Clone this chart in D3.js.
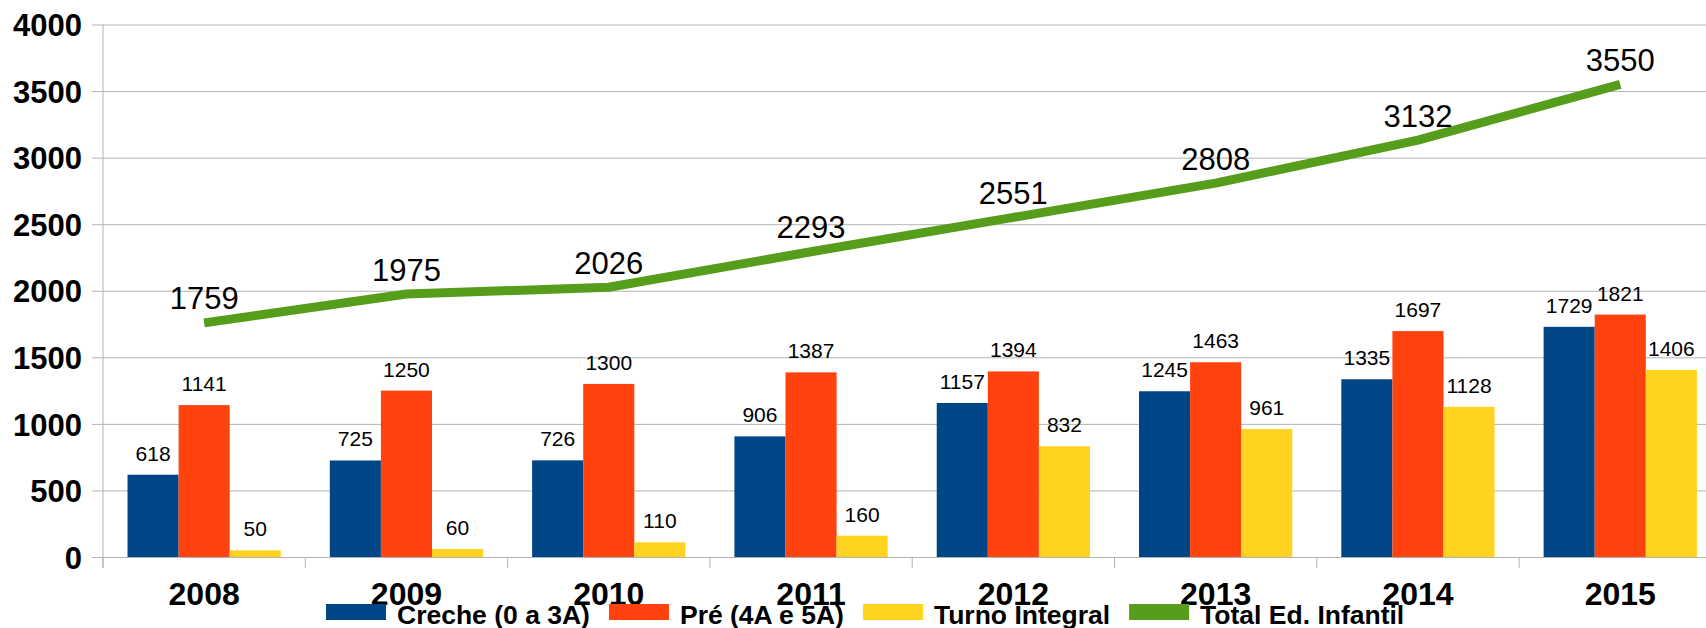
<!DOCTYPE html>
<html>
<head>
<meta charset="utf-8">
<script src="https://cdn.jsdelivr.net/npm/d3@7"></script>
<style>
  html, body { margin: 0; padding: 0; background: #fff; overflow: hidden; }
  svg { display: block; font-family: "Liberation Sans", Arial, sans-serif; }
</style>
</head>
<body>
<script>
// data
const years = ['2008', '2009', '2010', '2011', '2012', '2013', '2014', '2015'];
const seriesNames = ['Creche (0 a 3A)', 'Pré (4A e 5A)', 'Turno Integral'];
const creche = [618, 725, 726, 906, 1157, 1245, 1335, 1729];
const pre = [1141, 1250, 1300, 1387, 1394, 1463, 1697, 1821];
const turno = [50, 60, 110, 160, 832, 961, 1128, 1406];
const total = [1759, 1975, 2026, 2293, 2551, 2808, 3132, 3550];
const lineName = 'Total Ed. Infantil';
const yTicks = [0, 500, 1000, 1500, 2000, 2500, 3000, 3500, 4000];

const colors = ['#004586', '#ff420e', '#ffd320'];
const lineColor = '#579d1c';

let width = 1706, height = 628;
let margin = { top: 24.5, bottom: 71, left: 103 };
const plotRight = 103 + 8 * 202.3;

let svg = d3.select('body')
    .append('svg')
    .attr('width', width)
    .attr('height', height);

const x0 = d3.scaleBand()
    .domain(years)
    .range([margin.left, plotRight])
    .padding(0);

const x1 = d3.scaleBand()
    .domain(seriesNames)
    .range([0, x0.bandwidth()])
    .paddingInner(0)
    .paddingOuter(0.48);

const y = d3.scaleLinear()
    .domain([0, 4000])
    .range([height - margin.bottom, margin.top]);

// gridlines
svg.append('g')
    .attr('transform', `translate(${margin.left},0)`)
    .call(d3.axisLeft(y).tickValues(yTicks).tickSize(-(plotRight - margin.left)).tickFormat(''))
    .call(g => g.select('.domain').remove())
    .call(g => g.selectAll('line').attr('stroke', '#b3b3b3'));

// y axis labels + little ticks
svg.append('g')
    .attr('transform', `translate(${margin.left},0)`)
    .call(d3.axisLeft(y).tickValues(yTicks).tickFormat(d3.format('d')).tickSize(11).tickPadding(10))
    .call(g => g.select('.domain').remove())
    .call(g => g.selectAll('line').attr('stroke', '#b3b3b3'))
    .call(g => g.selectAll('text')
        .attr('font-family', '"Liberation Sans", Arial, sans-serif')
        .attr('font-size', 31)
        .attr('font-weight', 'bold')
        .attr('fill', '#000')
        .attr('dy', '0.36em'));

// vertical axis line
svg.append('line')
    .attr('x1', margin.left).attr('x2', margin.left)
    .attr('y1', y(4000)).attr('y2', y(0) + 11)
    .attr('stroke', '#b3b3b3');

// category boundary ticks
const bounds = years.map(d => x0(d)).concat([x0(years[years.length - 1]) + x0.bandwidth()]);
svg.append('g').selectAll('line')
    .data(bounds)
    .enter().append('line')
    .attr('x1', d => d).attr('x2', d => d)
    .attr('y1', y(0)).attr('y2', y(0) + 11)
    .attr('stroke', '#b3b3b3');

// bars
const rows = years.map((yr, i) => ({ year: yr, values: [creche[i], pre[i], turno[i]] }));

const groups = svg.selectAll('.grp')
    .data(rows)
    .enter().append('g')
    .attr('class', 'grp')
    .attr('transform', d => `translate(${x0(d.year)},0)`);

groups.selectAll('rect')
    .data(d => d.values.map((v, j) => ({ name: seriesNames[j], v: v, j: j })))
    .enter().append('rect')
    .attr('x', d => x1(d.name))
    .attr('width', x1.bandwidth())
    .attr('y', d => y(d.v))
    .attr('height', d => y(0) - y(d.v))
    .attr('fill', d => colors[d.j]);

groups.selectAll('text')
    .data(d => d.values.map((v, j) => ({ name: seriesNames[j], v: v })))
    .enter().append('text')
    .attr('x', d => x1(d.name) + x1.bandwidth() / 2)
    .attr('y', d => y(d.v) - 14)
    .attr('text-anchor', 'middle')
    .attr('font-size', 21)
    .attr('fill', '#000')
    .text(d => d.v);

// x axis labels
svg.append('g')
    .attr('transform', `translate(0,${y(0)})`)
    .call(d3.axisBottom(x0).tickSize(0))
    .call(g => g.select('.domain').remove())
    .call(g => g.selectAll('text')
        .attr('font-family', '"Liberation Sans", Arial, sans-serif')
        .attr('font-size', 32)
        .attr('font-weight', 'bold')
        .attr('fill', '#000')
        .attr('dy', null)
        .attr('y', 48));

// total line
const line = d3.line()
    .x((d, i) => x0(years[i]) + x0.bandwidth() / 2)
    .y(d => y(d));

svg.append('path')
    .datum(total)
    .attr('d', line)
    .attr('fill', 'none')
    .attr('stroke', lineColor)
    .attr('stroke-width', 9)
    .attr('stroke-linejoin', 'round');

svg.append('g').selectAll('text')
    .data(total)
    .enter().append('text')
    .attr('x', (d, i) => x0(years[i]) + x0.bandwidth() / 2)
    .attr('y', d => y(d) - 13.5)
    .attr('text-anchor', 'middle')
    .attr('font-size', 31)
    .attr('fill', '#000')
    .text(d => d);

// legend
const legendItems = seriesNames.map((n, i) => ({ name: n, color: colors[i] }))
    .concat([{ name: lineName, color: lineColor }]);

const legend = svg.append('g').attr('class', 'legend');
let lx = 326;
legendItems.forEach(function(item) {
    legend.append('rect')
        .attr('x', lx).attr('y', 604)
        .attr('width', 60).attr('height', 16)
        .attr('fill', item.color);
    const t = legend.append('text')
        .attr('x', lx + 71).attr('y', 624)
        .attr('font-size', 26.5)
        .attr('font-weight', 'bold')
        .attr('fill', '#000')
        .text(item.name);
    lx += 71 + t.node().getComputedTextLength() + 19;
});
</script>
</body>
</html>
